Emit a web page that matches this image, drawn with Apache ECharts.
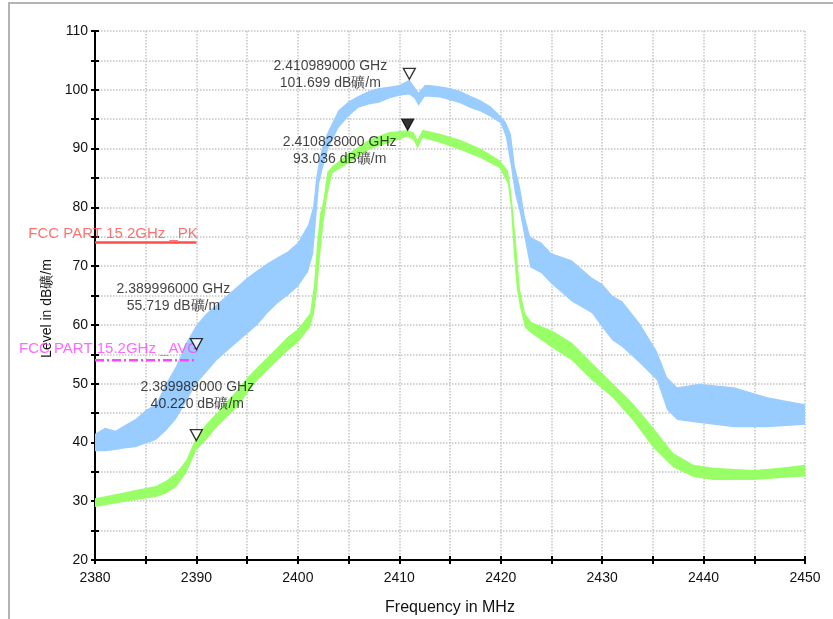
<!DOCTYPE html>
<html>
<head>
<meta charset="utf-8">
<script src="https://cdn.jsdelivr.net/npm/echarts@6/dist/echarts.min.js"></script>
<style>
  html, body { margin: 0; padding: 0; background: #fff; }
  #chart { width: 833px; height: 619px; }
  #frame {
    position: absolute; left: 8px; top: 2px; width: 830px; height: 620px;
    border-left: 2px solid #b4b4b4; border-top: 2px solid #b4b4b4;
    pointer-events: none;
  }
</style>
</head>
<body>
<div id="chart"></div>
<div id="frame"></div>
<script>
// peak trace (blue), read as lower / upper edge of the noise band
const blueFreq = [2380, 2381, 2382, 2383, 2384, 2385, 2386, 2387, 2388, 2389, 2390, 2391, 2392, 2393, 2394, 2395, 2396, 2397, 2398, 2399, 2400, 2401, 2401.5, 2401.8, 2402.1, 2402.5, 2403, 2404, 2405, 2406, 2407, 2408, 2409, 2410, 2410.99, 2411.5, 2411.9, 2412.5, 2413, 2414, 2415, 2416, 2417, 2418, 2419, 2420, 2420.5, 2421, 2421.4, 2421.9, 2422.4, 2422.9, 2424, 2425, 2427, 2429, 2430, 2431, 2432, 2433.7, 2435.4, 2436.4, 2437.4, 2439.6, 2443, 2446.3, 2450]
const blueLow = [38.5, 38.5, 38.7, 39, 39.2, 39.8, 40.4, 42, 44, 47, 50, 52, 54, 55.5, 57, 58.5, 60, 62, 63.7, 65, 66.5, 69, 72, 78, 84, 87, 90, 93.5, 95.5, 97, 97.5, 97.8, 98.5, 99, 99.2, 98.5, 97.3, 98.8, 98.8, 98.7, 98.2, 97.7, 96.9, 96.3, 95.4, 94.3, 92, 87, 82.4, 79, 74.4, 69.8, 68.8, 67, 64, 62, 59.6, 57.4, 56.2, 53.5, 50.6, 45.5, 43.8, 43.3, 42.6, 42.6, 43]
const blueHigh = [41.5, 42.5, 42, 43, 44, 45.5, 46.5, 50, 53, 57, 60, 62, 63.5, 65, 66.5, 68, 69.3, 70.5, 71.5, 72.5, 74, 77, 80, 85, 88, 91, 93, 96.5, 98, 99, 99.8, 100.3, 100.5, 100.8, 101.7, 100.5, 99.5, 100.8, 100.8, 100.6, 100.3, 99.8, 99, 98.2, 97.2, 95.5, 94.5, 92.5, 87, 83.5, 78.3, 75, 74, 72.2, 71, 68, 67, 65, 64, 60.3, 55.5, 51.1, 49.4, 50, 49.4, 47.7, 46.5]

// average trace (green)
const greenFreq = [2380, 2382, 2384, 2386, 2387, 2388, 2389, 2390, 2391, 2392, 2393, 2394, 2395, 2396, 2397, 2398, 2399, 2400, 2401.2, 2401.6, 2401.9, 2402.2, 2402.5, 2402.9, 2403.4, 2405, 2407, 2409, 2410.8, 2411.4, 2411.8, 2412.3, 2414, 2416, 2418, 2419.9, 2420.7, 2421, 2421.3, 2421.6, 2421.9, 2422.4, 2423, 2425, 2427, 2429, 2431, 2433, 2435, 2437, 2439, 2441, 2445, 2448, 2450]
const greenLow = [29, 29.6, 30.2, 30.7, 31.3, 32.4, 34.8, 38.7, 40.5, 42.6, 44.3, 46, 48.3, 50.6, 52.3, 54, 55.6, 57, 59.6, 62, 66, 72, 77, 82, 85.8, 87.5, 89.8, 91, 92, 91.5, 90, 91.8, 91, 89.8, 88.4, 86.7, 84, 80, 72, 66, 63, 59.5, 58.6, 56.2, 54, 50.6, 47.7, 43.8, 39.2, 35.8, 34.1, 33.6, 33.6, 34, 34.2]
const greenHigh = [30.5, 31.2, 31.9, 32.6, 33.5, 34.8, 37, 41, 43.2, 45, 47, 48.9, 51, 52.8, 54.5, 56.2, 58, 59.3, 62, 67, 74, 79, 81, 86, 87, 89.2, 91.5, 92.8, 93.1, 92.8, 91.5, 93.2, 92.5, 91.5, 90, 88, 86.3, 83, 78, 72, 66, 62, 60.5, 59.1, 57, 53.5, 50.1, 46.7, 42.6, 38.2, 36.2, 35.7, 35.3, 35.8, 36.2]

// limit lines
const limitNames = ['FCC PART 15 2GHz _PK', 'FCC PART 15.2GHz _AVG']
const limitLevels = [74, 54]
const limitFreq = [2380, 2390]

// markers
const markerFreq = [2389.996, 2389.989, 2410.989, 2410.828]
const markerLevel = [55.719, 40.220, 101.699, 93.036]
const markerFilled = [false, false, false, true]

const labelOffsets = [[-23, -46], [1, -40], [-79, 1], [-68, 26]]
const limitColors = ['#ff4d4d', '#ff44ff']
const limitLabelOffsets = [[18, -9], [14, -11]]

const font = '"Liberation Sans", Arial, sans-serif'

function bandSeries(name, freq, low, high, color) {
  return {
    name,
    type: 'custom',
    silent: true,
    clip: true,
    data: freq.map((f, i) => [f, low[i], high[i]]),
    encode: { x: 0, y: [1, 2] },
    renderItem(params, api) {
      if (params.dataIndex !== 0) return null
      const pts = []
      for (let i = 0; i < freq.length; i++) pts.push(api.coord([freq[i], high[i]]))
      for (let i = freq.length - 1; i >= 0; i--) pts.push(api.coord([freq[i], low[i]]))
      return { type: 'polygon', shape: { points: pts }, style: { fill: color } }
    }
  }
}

const chart = echarts.init(document.getElementById('chart'), null, { renderer: 'canvas' })

const tenOnly = v => (v % 10 === 0 ? String(v) : '')

const option = {
  animation: false,
  backgroundColor: '#fff',
  textStyle: { fontFamily: font },
  grid: { left: 95, right: 28, top: 31, bottom: 59, outerBoundsMode: 'none', containLabel: false },
  xAxis: [
    {
      type: 'value',
      min: 2380,
      max: 2450,
      interval: 5,
      name: 'Frequency in MHz',
      nameLocation: 'middle',
      nameGap: 40,
      nameTextStyle: { color: '#111', fontSize: 16, fontFamily: font },
      axisLine: { lineStyle: { color: '#000', width: 2 } },
      axisTick: { length: 4, lineStyle: { color: '#000', width: 2 } },
      axisLabel: { color: '#111', fontSize: 14, margin: 11, formatter: tenOnly },
      splitLine: { show: true, lineStyle: { color: '#c4c4c4', type: 'dotted', width: 1.5 } }
    },
    {
      type: 'value', min: 2380, max: 2450, interval: 5, position: 'bottom',
      axisLine: { show: false },
      axisTick: { inside: true, length: 4, lineStyle: { color: '#000', width: 2 } },
      axisLabel: { show: false },
      splitLine: { show: false }
    }
  ],
  yAxis: [
    {
      type: 'value',
      min: 20,
      max: 110,
      interval: 5,
      name: 'Level in dB礦/m',
      nameLocation: 'middle',
      nameGap: 38,
      nameTextStyle: { color: '#111', fontSize: 14, fontFamily: font, padding: [0, 0, 0, -26] },
      axisLine: { lineStyle: { color: '#000', width: 2 } },
      axisTick: { length: 4, lineStyle: { color: '#000', width: 2 } },
      axisLabel: { color: '#111', fontSize: 14, margin: 7, formatter: tenOnly },
      splitLine: { show: true, lineStyle: { color: '#c4c4c4', type: 'dotted', width: 1.5 } }
    },
    {
      type: 'value', min: 20, max: 110, interval: 5, position: 'left',
      axisLine: { show: false },
      axisTick: { inside: true, length: 4, lineStyle: { color: '#000', width: 2 } },
      axisLabel: { show: false },
      splitLine: { show: false }
    }
  ],
  series: [
    ...limitNames.map((n, k) => ({
      name: n,
      type: 'line',
      silent: true,
      symbol: 'none',
      data: limitFreq.map(f => [f, limitLevels[k]]),
      lineStyle: {
        color: limitColors[k],
        width: 2.5,
        type: k === 0 ? 'solid' : [9, 3, 2, 3]
      }
    })),
    {
      name: 'limit labels',
      type: 'scatter',
      silent: true,
      symbolSize: 1,
      itemStyle: { color: 'rgba(0,0,0,0)' },
      data: limitNames.map((n, k) => ({
        value: [limitFreq[0], limitLevels[k]],
        label: {
          show: true,
          position: 'inside',
          offset: limitLabelOffsets[k],
          formatter: n,
          color: limitColors[k],
          fontSize: 15,
          fontFamily: font
        }
      }))
    },
    bandSeries('Peak', blueFreq, blueLow, blueHigh, '#99ccff'),
    bandSeries('Average', greenFreq, greenLow, greenHigh, '#99ff66'),
    {
      name: 'markers',
      type: 'scatter',
      silent: true,
      symbol: 'triangle',
      symbolRotate: 180,
      symbolSize: [12, 11],
      symbolOffset: [0, -6],
      z: 5,
      data: markerFreq.map((f, i) => ({
        value: [f, markerLevel[i]],
        itemStyle: {
          color: markerFilled[i] ? '#000' : '#fff',
          borderColor: '#000',
          borderWidth: 1.3
        },
        label: {
          show: true,
          position: 'inside',
          offset: labelOffsets[i],
          formatter: (f / 1000).toFixed(9) + ' GHz\n' + markerLevel[i].toFixed(3) + ' dB礦/m',
          color: '#111',
          fontSize: 14,
          lineHeight: 17,
          align: 'center',
          fontFamily: font
        }
      }))
    }
  ]
}

chart.setOption(option)
</script>
</body>
</html>
